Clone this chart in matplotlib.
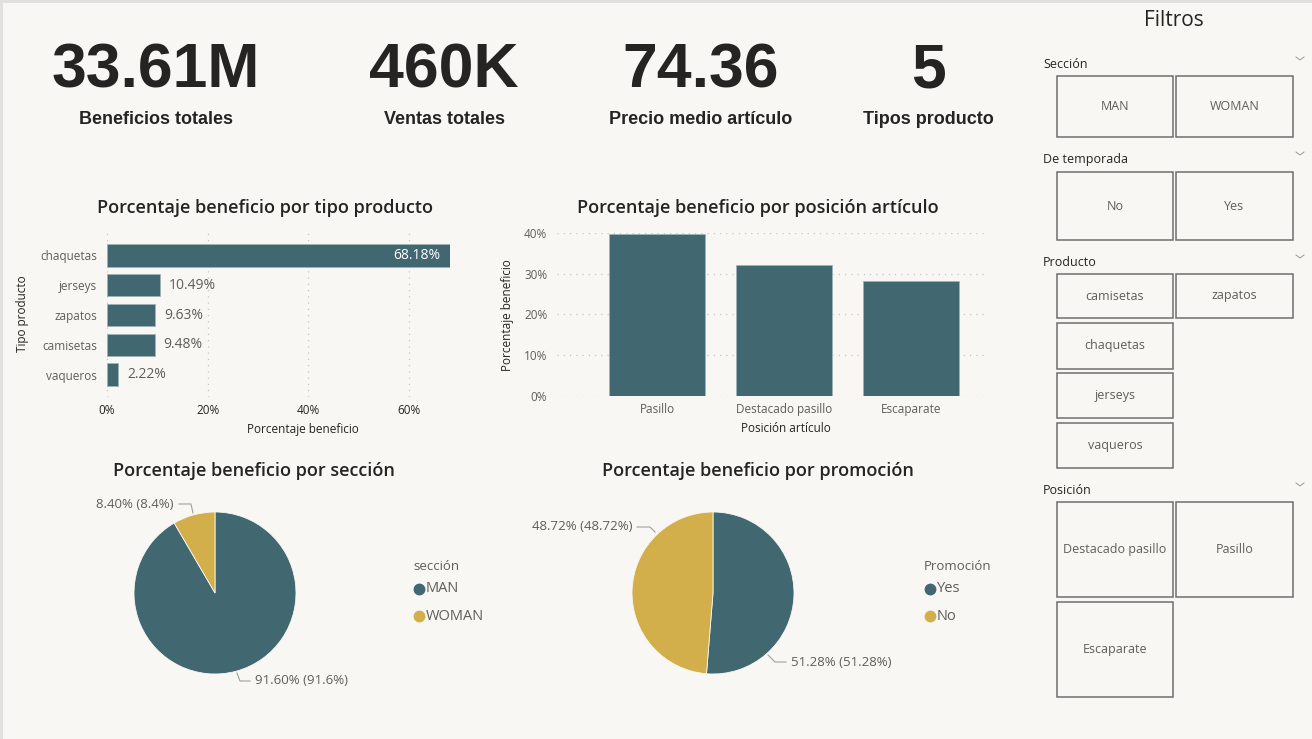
import matplotlib
matplotlib.use("Agg")
import matplotlib.pyplot as plt
from matplotlib.patches import Rectangle

plt.rcParams['font.family'] = ['Open Sans', 'DejaVu Sans']

W, H = 1312, 739
BG = "#F8F7F3"
TEAL = "#416770"
GOLD = "#D3AF4C"
DARK = "#252423"
GREY = "#605E5C"
GRID = "#C8C6C4"

# tarjetas KPI
kpi_values = ["33.61M", "460K", "74.36", "5"]
kpi_labels = ["Beneficios totales", "Ventas totales", "Precio medio artículo", "Tipos producto"]

# porcentaje beneficio por tipo producto
productos = ["chaquetas", "jerseys", "zapatos", "camisetas", "vaqueros"]
pct_producto = [68.18, 10.49, 9.63, 9.48, 2.22]

# porcentaje beneficio por posicion
posiciones = ["Pasillo", "Destacado pasillo", "Escaparate"]
pct_posicion = [39.8, 32.1, 28.1]

# por seccion / promocion
secciones = ["MAN", "WOMAN"]
pct_seccion = [91.60, 8.40]
lbl_seccion = ["91.60% (91.6%)", "8.40% (8.4%)"]

promociones = ["Yes", "No"]
pct_promocion = [51.28, 48.72]
lbl_promocion = ["51.28% (51.28%)", "48.72% (48.72%)"]

# slicers
filtro_seccion = ["MAN", "WOMAN"]
filtro_temporada = ["No", "Yes"]
filtro_producto = ["camisetas", "zapatos", "chaquetas", "jerseys", "vaqueros"]
filtro_posicion = ["Destacado pasillo", "Pasillo", "Escaparate"]


fig = plt.figure(figsize=(W / 100, H / 100), dpi=100, facecolor=BG)


def px_axes(x0, y0, x1, y1):
    return fig.add_axes([x0 / W, 1 - y1 / H, (x1 - x0) / W, (y1 - y0) / H])


# overlay in pixel coords for free text / boxes
ov = px_axes(0, 0, W, H)
ov.set_xlim(0, W)
ov.set_ylim(H, 0)
ov.axis('off')
ov.patch.set_alpha(0)

ov.plot([0, W], [1, 1], color="#E1DFDD", lw=2)
ov.plot([1, 1], [0, H], color="#E1DFDD", lw=2)

# KPIs
kpi_x = [156, 444, 701, 928]
for x, v, l in zip(kpi_x, kpi_values, kpi_labels):
    ov.text(x, 71, v, ha='center', va='center', fontsize=45, fontweight='bold',
            family=['Liberation Sans', 'DejaVu Sans'], color=DARK)
    ov.text(x, 119, l, ha='center', va='center', fontsize=13, fontweight='bold',
            family=['Liberation Sans', 'DejaVu Sans'], color=DARK)


def style_axes(ax):
    for s in ax.spines.values():
        s.set_visible(False)
    ax.set_facecolor('none')
    ax.tick_params(length=0, labelsize=8.5, labelcolor=GREY)


# --- barras horizontales: tipo producto
ax1 = px_axes(107, 233, 450, 397)
style_axes(ax1)
ypos = list(range(len(productos)))
ax1.barh(ypos, pct_producto, height=0.75, color=TEAL, edgecolor="#9FB3B7", linewidth=0.6)
ax1.set_xlim(0, 68.2)
ax1.set_ylim(4.75, -0.75)
ax1.set_yticks(ypos)
ax1.set_yticklabels(productos)
ax1.set_xticks([0, 20, 40, 60])
ax1.set_xticklabels(["0%", "20%", "40%", "60%"], color=DARK)
ax1.tick_params(axis='y', pad=7)
ax1.tick_params(axis='x', pad=5)
ax1.grid(axis='x', color=GRID, linestyle=(0, (1, 4)), lw=0.9)
ax1.set_axisbelow(True)
for y, v in zip(ypos, pct_producto):
    if v > 50:
        ax1.annotate(f"{v:.2f}%", (v, y), xytext=(-7, 0), textcoords='offset points',
                     ha='right', va='center', color='white', fontsize=10)
    else:
        ax1.annotate(f"{v:.2f}%", (v, y), xytext=(6.5, 0), textcoords='offset points',
                     ha='left', va='center', color=GREY, fontsize=10)

ov.text(265, 208, "Porcentaje beneficio por tipo producto", ha='center', va='center',
        fontsize=13, fontweight='semibold', color=DARK)
ov.text(303, 429, "Porcentaje beneficio", ha='center', va='center', fontsize=8.5, color=DARK)
ov.text(23, 314, "Tipo producto", ha='center', va='center', rotation=90, fontsize=8.5, color=DARK)

# --- columnas: posicion articulo
ax2 = px_axes(557, 233, 988, 396)
style_axes(ax2)
xpos = list(range(len(posiciones)))
ax2.bar(xpos, pct_posicion, width=0.76, color=TEAL, edgecolor="#9FB3B7", linewidth=0.6)
ax2.set_xlim(-0.79, 2.61)
ax2.set_ylim(0, 40)
ax2.set_xticks(xpos)
ax2.set_xticklabels(posiciones)
ax2.set_yticks([0, 10, 20, 30, 40])
ax2.set_yticklabels(["0%", "10%", "20%", "30%", "40%"])
ax2.tick_params(axis='y', pad=7)
ax2.tick_params(axis='x', pad=5)
ax2.grid(axis='y', color=GRID, linestyle=(0, (1, 4)), lw=0.9)
ax2.set_axisbelow(True)

ov.text(758, 208, "Porcentaje beneficio por posición artículo", ha='center', va='center',
        fontsize=13, fontweight='semibold', color=DARK)
ov.text(786, 429, "Posición artículo", ha='center', va='center', fontsize=8.5, color=DARK)
ov.text(507, 315, "Porcentaje beneficio", ha='center', va='center', rotation=90,
        fontsize=8.5, color=DARK)


# --- tartas
def draw_pie(cx, cy, r, values, labels, names, title, title_x, leg_title, leaders, tx, legx):
    ax = px_axes(cx - r, cy - r, cx + r, cy + r)
    ax.pie(values, colors=[TEAL, GOLD], startangle=90, counterclock=False,
           wedgeprops=dict(edgecolor=BG, linewidth=0.6))
    ax.set_xlim(-1, 1)
    ax.set_ylim(-1, 1)
    ax.set_aspect('auto')
    ax.axis('off')
    ov.text(title_x, 471, title, ha='center', va='center',
            fontsize=13, fontweight='semibold', color=DARK)
    for pts, (x, y, ha), lab in zip(leaders, tx, labels):
        ov.plot([p[0] for p in pts], [p[1] for p in pts], color="#A19F9D", lw=0.8)
        ov.text(x, y, lab, ha=ha, va='center', fontsize=9.5, color=GREY)
    ov.text(legx - 6, 567, leg_title, ha='left', va='center', fontsize=9.5, color=GREY)
    for i, (n, c) in enumerate(zip(names, [TEAL, GOLD])):
        yy = 589 + 27 * i
        ov.plot(legx, yy, 'o', ms=7.5, color=c)
        ov.text(legx + 7, yy, n, ha='left', va='center', fontsize=10.5, color=GREY)


draw_pie(215, 593, 81, pct_seccion, lbl_seccion, secciones,
         "Porcentaje beneficio por sección", 254, "sección",
         [[(237, 673), (240, 681), (250, 681)], [(193, 513), (191, 504), (179, 504)]],
         [(255, 681, 'left'), (174, 505, 'right')], 419)

draw_pie(713, 593, 81, pct_promocion, lbl_promocion, promociones,
         "Porcentaje beneficio por promoción", 758, "Promoción",
         [[(768, 655), (775, 662), (786, 662)], [(655, 532), (650, 527), (637, 527)]],
         [(791, 662, 'left'), (632, 527, 'right')], 930)

# --- panel de filtros
ov.text(1174, 21, "Filtros", ha='center', va='center', fontsize=15, color=DARK)

BX = [(1057, 1173), (1176, 1293)]


def slicer(head, head_y, items, rows):
    ov.text(1043, head_y, head, ha='left', va='center', fontsize=9, color=DARK)
    ov.plot([1296, 1300, 1304], [head_y - 8, head_y - 5, head_y - 8], color="#9A9A9A", lw=0.7)
    for item, (col, (y0, y1)) in zip(items, rows):
        x0, x1 = BX[col]
        ov.add_patch(Rectangle((x0, y0), x1 - x0, y1 - y0, fill=False,
                               edgecolor="#6E6E6E", lw=1.1))
        ov.text((x0 + x1) / 2, (y0 + y1) / 2, item, ha='center', va='center',
                fontsize=9, color=GREY)


slicer("Sección", 65, filtro_seccion, [(0, (76, 137)), (1, (76, 137))])
slicer("De temporada", 160, filtro_temporada, [(0, (172, 240)), (1, (172, 240))])
slicer("Producto", 263, filtro_producto,
       [(0, (274, 318)), (1, (274, 318)), (0, (323, 369)), (0, (373, 418)), (0, (423, 468))])
slicer("Posición", 491, filtro_posicion,
       [(0, (502, 597)), (1, (502, 597)), (0, (602, 697))])

fig.savefig("out.png", dpi=100, facecolor=BG)
